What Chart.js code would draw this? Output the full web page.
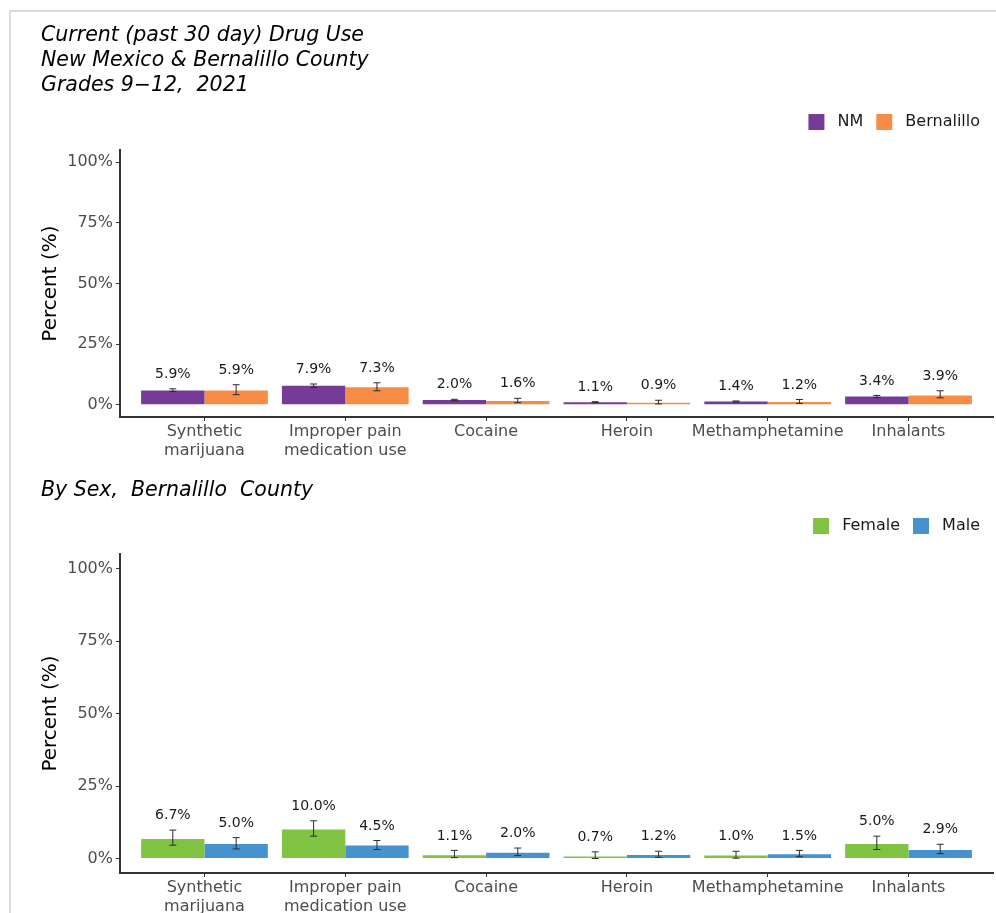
<!DOCTYPE html>
<html>
<head>
<meta charset="utf-8">
<script src="https://cdn.jsdelivr.net/npm/chart.js@4.4.1/dist/chart.umd.min.js"></script>
<style>
  html, body { margin: 0; padding: 0; background: #fff; overflow: hidden; }
  body { width: 996px; height: 913px; position: relative; }
  .frame { position: absolute; left: 9px; top: 10px; width: 1100px; height: 1000px; border: 2px solid #dcdcdc; box-sizing: border-box; }
  .panel { position: absolute; left: 0; width: 996px; }
  #topPanel { top: 0; }
  #bottomPanel { top: 467px; }
</style>
</head>
<body>
<div class="frame"></div>
<div class="panel" id="topPanel"><canvas id="drugChart" width="996" height="467"></canvas></div>
<div class="panel" id="bottomPanel"><canvas id="sexChart" width="996" height="456"></canvas></div>
<script>
const categories = ['Synthetic marijuana', 'Improper pain medication use', 'Cocaine', 'Heroin', 'Methamphetamine', 'Inhalants'];
const tickLabels = [['Synthetic', 'marijuana'], ['Improper pain', 'medication use'], 'Cocaine', 'Heroin', 'Methamphetamine', 'Inhalants'];
const yTicks = [0, 25, 50, 75, 100];

// NM vs Bernalillo, with 95% CI
const nmValues = [5.9, 7.9, 2.0, 1.1, 1.4, 3.4];
const nmLower = [5.5, 7.2, 1.7, 0.9, 1.2, 3.0];
const nmUpper = [6.6, 8.6, 2.3, 1.3, 1.6, 3.9];
const bernValues = [5.9, 7.3, 1.6, 0.9, 1.2, 3.9];
const bernLower = [4.2, 5.8, 0.9, 0.4, 0.6, 2.9];
const bernUpper = [8.3, 9.1, 2.7, 1.9, 2.2, 5.8];

// Bernalillo by sex
const femaleValues = [6.7, 10.0, 1.1, 0.7, 1.0, 5.0];
const femaleLower = [4.6, 7.7, 0.3, 0.0, 0.1, 3.1];
const femaleUpper = [9.8, 13.0, 2.8, 2.3, 2.5, 7.7];
const maleValues = [5.0, 4.5, 2.0, 1.2, 1.5, 2.9];
const maleLower = [3.3, 3.1, 1.0, 0.4, 0.6, 1.7];
const maleUpper = [7.2, 6.2, 3.6, 2.5, 2.8, 4.9];

const FONT = 'DejaVu Sans';
const AXIS_TEXT = '#4d4d4d';

// whiskers + value labels above each bar
const errorBarPlugin = {
    id: 'errorBars',
    afterDatasetsDraw(chart) {
        const ctx = chart.ctx;
        const yScale = chart.scales.y;
        ctx.save();
        chart.data.datasets.forEach((ds, di) => {
            const meta = chart.getDatasetMeta(di);
            meta.data.forEach((bar, i) => {
                const top = yScale.getPixelForValue(ds.upper[i]);
                const bottom = yScale.getPixelForValue(ds.lower[i]);
                ctx.strokeStyle = '#2b2b2b';
                ctx.lineWidth = 1;
                ctx.beginPath();
                ctx.moveTo(bar.x, top);
                ctx.lineTo(bar.x, bottom);
                ctx.moveTo(bar.x - 3.5, top);
                ctx.lineTo(bar.x + 3.5, top);
                ctx.moveTo(bar.x - 3.5, bottom);
                ctx.lineTo(bar.x + 3.5, bottom);
                ctx.stroke();

                ctx.fillStyle = '#1a1a1a';
                ctx.font = '14px "' + FONT + '"';
                ctx.textAlign = 'center';
                ctx.textBaseline = 'middle';
                ctx.fillText(ds.data[i].y.toFixed(1) + '%', bar.x, top - 14.5);
            });
        });
        ctx.restore();
    }
};

// extra room between legend and plot
const legendSpacer = {
    id: 'legendSpacer',
    afterInit(chart) {
        const legend = chart.legend;
        const fit = legend.fit;
        legend.fit = function() {
            fit.call(this);
            this.height += 10;
        };
    }
};

function makeChart(canvasId, titleText, titlePadding, series) {
    return new Chart(document.getElementById(canvasId), {
        type: 'bar',
        data: {
            datasets: series.map(s => ({
                label: s.label,
                data: s.values.map((v, i) => ({ x: i, y: v })),
                lower: s.lower,
                upper: s.upper,
                backgroundColor: s.color,
                borderWidth: 0,
                categoryPercentage: 0.9,
                barPercentage: 1
            }))
        },
        options: {
            responsive: false,
            animation: false,
            events: [],
            layout: { padding: { left: 41, right: 3, top: 0, bottom: 0 } },
            plugins: {
                tooltip: { enabled: false },
                title: {
                    display: true,
                    text: titleText,
                    align: 'start',
                    color: '#000',
                    padding: titlePadding,
                    font: { family: FONT, size: 20.5, style: 'italic', weight: 'normal', lineHeight: 1.22 }
                },
                legend: {
                    position: 'top',
                    align: 'end',
                    labels: {
                        boxWidth: 16,
                        boxHeight: 16,
                        padding: 13,
                        color: '#1a1a1a',
                        font: { family: FONT, size: 16 },
                        generateLabels: (chart) =>
                            Chart.defaults.plugins.legend.labels.generateLabels(chart)
                                .map(item => ({ ...item, text: ' ' + item.text }))
                    }
                }
            },
            scales: {
                x: {
                    type: 'linear',
                    min: -0.6,
                    max: 5.6,
                    offset: false,
                    afterBuildTicks: (scale) => {
                        scale.ticks = categories.map((c, i) => ({ value: i }));
                    },
                    afterFit: (scale) => { scale.height = 50; },
                    ticks: {
                        autoSkip: false,
                        maxRotation: 0,
                        padding: 1,
                        color: AXIS_TEXT,
                        font: { family: FONT, size: 16, lineHeight: 1.2 },
                        callback: (v) => tickLabels[v]
                    },
                    grid: { drawOnChartArea: false, offset: false, tickLength: 4, color: '#333', tickWidth: 1 },
                    border: { color: '#333', width: 2 }
                },
                y: {
                    min: -5,
                    max: 105,
                    afterBuildTicks: (scale) => {
                        scale.ticks = yTicks.map(v => ({ value: v }));
                    },
                    afterFit: (scale) => { scale.width = 79; },
                    ticks: {
                        padding: 3,
                        color: AXIS_TEXT,
                        font: { family: FONT, size: 16 },
                        callback: (v) => v + '%'
                    },
                    title: {
                        display: true,
                        text: 'Percent (%)',
                        color: '#000',
                        padding: { top: 0, bottom: 0 },
                        font: { family: FONT, size: 20, lineHeight: 1 }
                    },
                    grid: { drawOnChartArea: false, tickLength: 4, color: '#333', tickWidth: 1 },
                    border: { color: '#333', width: 2 }
                }
            }
        },
        plugins: [errorBarPlugin, legendSpacer]
    });
}

makeChart('drugChart',
    ['Current (past 30 day) Drug Use', 'New Mexico & Bernalillo County', 'Grades 9\u221212,  2021'],
    { top: 23, bottom: 3 },
    [
        { label: 'NM', values: nmValues, lower: nmLower, upper: nmUpper, color: '#763b96' },
        { label: 'Bernalillo', values: bernValues, lower: bernLower, upper: bernUpper, color: '#f68c46' }
    ]);

makeChart('sexChart',
    'By Sex,  Bernalillo  County',
    { top: 11, bottom: 2 },
    [
        { label: 'Female', values: femaleValues, lower: femaleLower, upper: femaleUpper, color: '#80c241' },
        { label: 'Male', values: maleValues, lower: maleLower, upper: maleUpper, color: '#4592cf' }
    ]);
</script>
</body>
</html>
